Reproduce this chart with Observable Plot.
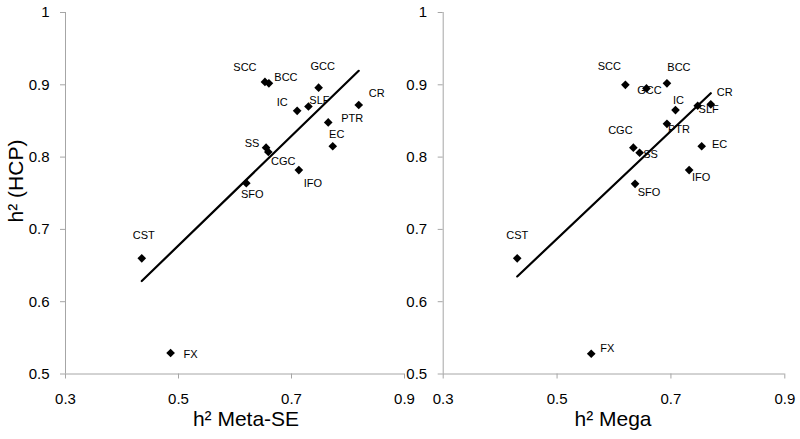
<!DOCTYPE html>
<html>
<head>
<meta charset="utf-8">
<script src="https://cdn.jsdelivr.net/npm/d3@7"></script>
<script src="https://cdn.jsdelivr.net/npm/@observablehq/plot@0.6"></script>
<style>
  html, body { margin: 0; padding: 0; background: #fff; }
  #wrap { position: relative; width: 800px; height: 439px; overflow: hidden; font-family: "Liberation Sans", Arial, sans-serif; }
  .panel { position: absolute; top: 0; }
  .panel svg { overflow: visible; }
  .title { position: absolute; font-size: 21px; line-height: 24px; color: #000; white-space: nowrap; }
</style>
</head>
<body>
<div id="wrap">
  <div class="panel" id="left" style="left:0px"></div>
  <div class="panel" id="right" style="left:400px"></div>
  <div class="title" id="xt1" style="left:246px; top:407px; transform:translateX(-50%);">h² Meta-SE</div>
  <div class="title" id="xt2" style="left:613px; top:407px; transform:translateX(-50%);">h² Mega</div>
  <div class="title" id="yt" style="left:16px; top:181px; transform:translate(-50%,-50%) rotate(-90deg);">h² (HCP)</div>
</div>
<script>
// ---- data ----
const tracts = ["SCC","BCC","GCC","IC","SLF","CR","PTR","EC","SS","CGC","IFO","SFO","CST","FX"];
const hcp_metaSE = [0.904,0.902,0.896,0.864,0.870,0.872,0.848,0.815,0.813,0.807,0.782,0.764,0.660,0.529];
const metaSE     = [0.653,0.660,0.748,0.710,0.730,0.819,0.765,0.773,0.655,0.659,0.713,0.620,0.435,0.486];
const hcp_mega   = [0.900,0.902,0.895,0.865,0.871,0.873,0.846,0.815,0.806,0.813,0.782,0.763,0.660,0.528];
const mega       = [0.620,0.693,0.657,0.708,0.747,0.770,0.693,0.754,0.645,0.634,0.732,0.637,0.430,0.560];
const xTicks = [0.3, 0.5, 0.7, 0.9];
const yTicks = [0.5, 0.6, 0.7, 0.8, 0.9, 1];

// label offsets (layout, px) per tract
const offsLeft = {SCC:[-20,-14],BCC:[17,-6],GCC:[4,-21],IC:[-15,-8],SLF:[11,-6],CR:[18,-12],PTR:[24,-4],EC:[4,-12],SS:[-14,-4],CGC:[15,9],IFO:[14,13],SFO:[6,11],CST:[2,-23],FX:[20,1]};
const offsRight = {SCC:[-16,-18],BCC:[12,-16],GCC:[3,2],IC:[3,-10],SLF:[11,4],CR:[14,-12],PTR:[12,6],EC:[18,-2],SS:[11,2],CGC:[-13,-17],IFO:[12,7],SFO:[14,9],CST:[0,-23],FX:[16,-5]};

function panel(xs, ys, offs, opts) {
  const data = tracts.map((t, i) => ({t, x: xs[i], y: ys[i]}));
  const axisColor = "#a6a6a6";
  return Plot.plot({
    width: opts.width, height: 439,
    marginLeft: opts.ml, marginRight: opts.mr, marginTop: 12, marginBottom: 65.5,
    style: {fontFamily: "'Liberation Sans', Arial, sans-serif", background: "transparent", overflow: "visible"},
    x: {domain: [0.3, 0.9]},
    y: {domain: [0.5, 1]},
    marks: [
      Plot.ruleX([0.3], {stroke: axisColor, strokeWidth: 1}),
      Plot.ruleY([0.5], {stroke: axisColor, strokeWidth: 1}),
      Plot.axisY({ticks: yTicks, tickFormat: d => String(d), tickSize: 5, tickPadding: 11, fontSize: 15, stroke: axisColor, color: "#000", label: null}),
      Plot.axisX({ticks: xTicks, tickFormat: d => String(d), tickSize: 5, tickPadding: 14, fontSize: 15, stroke: axisColor, color: "#000", label: null}),
      Plot.linearRegressionY(data, {x: "x", y: "y", ci: 0, stroke: "#000", strokeWidth: 2.2}),
      Plot.dot(data, {x: "x", y: "y", symbol: "diamond2", fill: "#000", stroke: "none", r: 3.9}),
      ...tracts.map((t, i) => Plot.text([data[i]], {x: "x", y: "y", text: "t", dx: offs[t][0], dy: offs[t][1], fontSize: 11, fill: "#000"}))
    ]
  });
}

document.getElementById("left").append(panel(metaSE, hcp_metaSE, offsLeft, {width: 420, ml: 65, mr: 16}));
document.getElementById("right").append(panel(mega, hcp_mega, offsRight, {width: 400, ml: 42.7, mr: 15.7}));
</script>
</body>
</html>
